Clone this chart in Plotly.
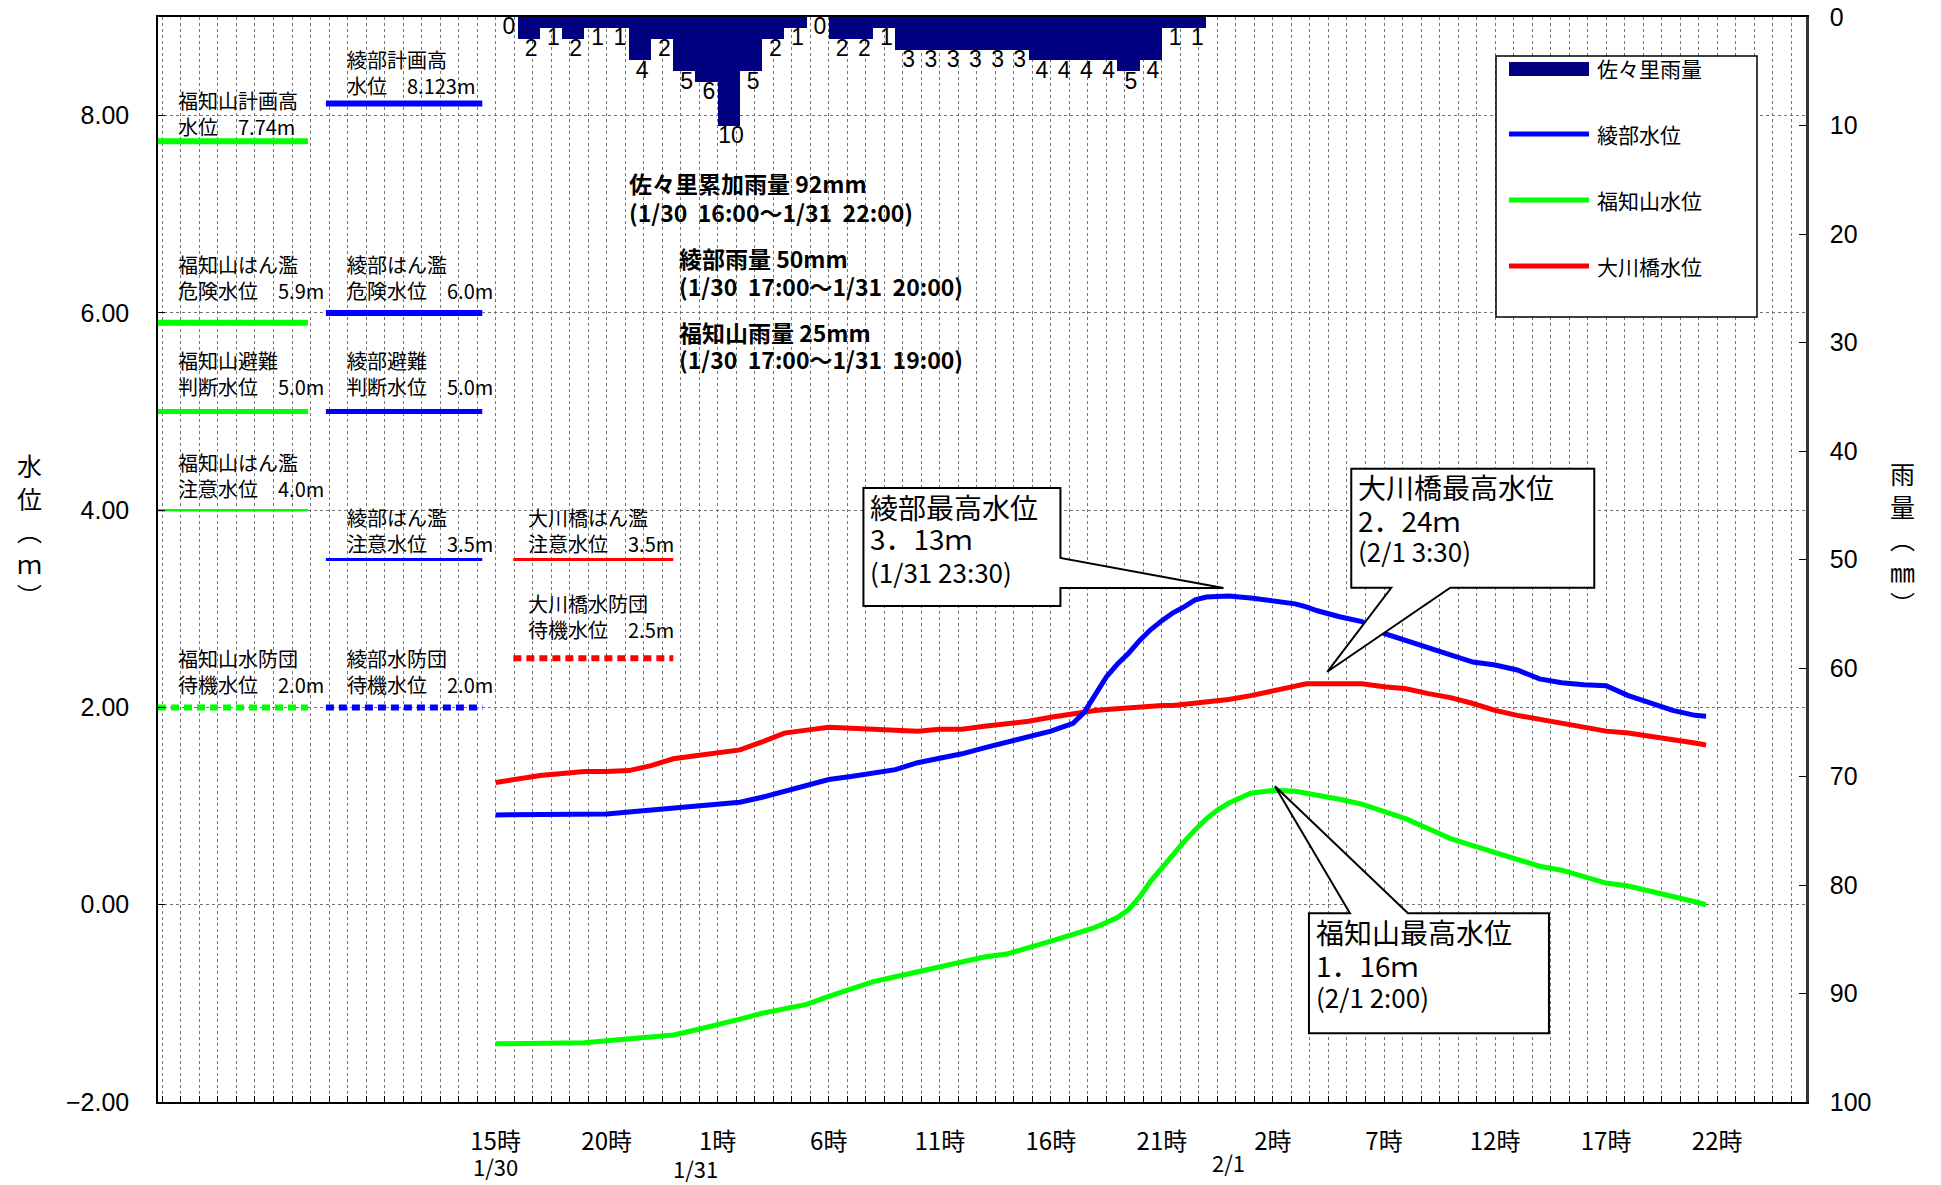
import plotly.graph_objects as go

# ---------------- data ----------------
# hours counted from 1/30 0:00
rain_hours = list(range(15, 47))          # 1/30 15:00 ... 1/31 22:00
rain_sasari = [0, 2, 1, 2, 1, 1, 4, 2, 5, 6, 10, 5, 2, 1, 0, 2, 2, 1,
               3, 3, 3, 3, 3, 3, 4, 4, 4, 4, 5, 4, 1, 1]

level_hours = [15, 16, 17, 18, 19, 20, 21, 22, 23, 24, 25, 26, 27, 28, 29, 30,
               31, 32, 33, 34, 35, 36, 37, 38, 39, 40, 41,
               41.5, 42, 42.5, 43, 43.5, 44, 44.5, 45, 45.5, 46, 46.5, 47, 47.5, 48,
               49, 50, 51, 51.5,
               52, 53, 54, 55, 56, 57, 58, 59, 60, 61, 62, 63, 64, 65, 66, 67, 68, 69,
               69.5]

ayabe_level = [0.91, 0.91, 0.91, 0.91, 0.92, 0.92, 0.94, 0.96, 0.98, 1.01, 1.02, 1.04,
               1.09, 1.15, 1.22, 1.27, 1.30, 1.33, 1.37, 1.44, 1.48, 1.53, 1.59, 1.65,
               1.70, 1.76, 1.84,
               1.95, 2.13, 2.31, 2.44, 2.55, 2.68, 2.79, 2.88, 2.96, 3.02, 3.09, 3.12,
               3.13, 3.13,
               3.11, 3.08, 3.05, 3.02,
               2.98, 2.92, 2.87, 2.75, 2.68, 2.60, 2.53, 2.46, 2.43, 2.38, 2.29, 2.25,
               2.23, 2.22, 2.12, 2.05, 1.97, 1.92,
               1.91]

okawabashi_level = [1.24, 1.28, 1.31, 1.33, 1.35, 1.35, 1.36, 1.41, 1.48, 1.51, 1.54,
                    1.57, 1.65, 1.74, 1.77, 1.80, 1.79, 1.78, 1.77, 1.76, 1.78, 1.78,
                    1.81, 1.83, 1.86, 1.90, 1.94,
                    1.95, 1.97, 1.98, 1.99, 2.00, 2.00, 2.01, 2.02, 2.02, 2.03, 2.04,
                    2.05, 2.07, 2.08,
                    2.12, 2.17, 2.21, 2.24,
                    2.24, 2.24, 2.24, 2.21, 2.19, 2.14, 2.10, 2.04, 1.97, 1.92, 1.88,
                    1.83, 1.79, 1.76, 1.74, 1.71, 1.67, 1.64,
                    1.62]

fukuchiyama_level = [-1.41, -1.41, -1.41, -1.41, -1.40, -1.38, -1.36, -1.34, -1.32,
                     -1.27, -1.22, -1.16, -1.10, -1.05, -1.01, -0.93, -0.85, -0.78,
                     -0.73, -0.68, -0.64, -0.58, -0.53, -0.50, -0.44, -0.37, -0.30,
                     -0.27, -0.23, -0.18, -0.13, -0.05, 0.08, 0.24, 0.38, 0.52, 0.64,
                     0.76, 0.87, 0.96, 1.03,
                     1.13, 1.16, 1.15, 1.13,
                     1.12, 1.07, 1.02, 0.95, 0.87, 0.77, 0.67, 0.60, 0.53, 0.46, 0.39,
                     0.35, 0.28, 0.22, 0.19, 0.14, 0.08, 0.03,
                     0.00]

x_tick_hours = [15, 20, 25, 30, 35, 40, 45, 50, 55, 60, 65, 70]
x_tick_labels = ["15時", "20時", "1時", "6時", "11時", "16時", "21時",
                 "2時", "7時", "12時", "17時", "22時"]
date_hours = [15, 24, 48]
date_labels = ["1/30", "1/31", "2/1"]

y_left_ticks = [-2, 0, 2, 4, 6, 8]

fuku_thresholds = [7.74, 5.9, 5.0, 4.0, 2.0]
fuku_threshold_labels = ["福知山計画高<br>水位　7.74m", "福知山はん濫<br>危険水位　5.9m",
                         "福知山避難<br>判断水位　5.0m", "福知山はん濫<br>注意水位　4.0m",
                         "福知山水防団<br>待機水位　2.0m"]
ayabe_thresholds = [8.123, 6.0, 5.0, 3.5, 2.0]
ayabe_threshold_labels = ["綾部計画高<br>水位　8.123m", "綾部はん濫<br>危険水位　6.0m",
                          "綾部避難<br>判断水位　5.0m", "綾部はん濫<br>注意水位　3.5m",
                          "綾部水防団<br>待機水位　2.0m"]
okawa_thresholds = [3.5, 2.5]
okawa_threshold_labels = ["大川橋はん濫<br>注意水位　3.5m", "大川橋水防団<br>待機水位　2.5m"]

legend_names = ["佐々里雨量", "綾部水位", "福知山水位", "大川橋水位"]

rain_summary = [
    ["佐々里累加雨量 92mm", "(1/30  16:00～1/31  22:00)"],
    ["綾部雨量 50mm", "(1/30  17:00～1/31  20:00)"],
    ["福知山雨量 25mm", "(1/30  17:00～1/31  19:00)"],
]

# ---------------- styles ----------------
NAVY, BLUE, GREEN, RED = "#000080", "#0000FF", "#00FF00", "#FF0000"
GRID = "#737373"
JP = "Noto Sans CJK JP"
NUM = "Liberation Sans, Arial, sans-serif"
NARROW = "Liberation Sans Narrow, Arial Narrow, Liberation Sans, sans-serif"

PL, PR, PT, PB = 158, 1806, 17, 1102          # plot area in pixels
PW, PH = PR - PL, PB - PT


def px_x(px):
    return (px - PL) / PW


def px_y(py):
    return (PB - py) / PH


thr_styles = {
    "fuku": [(6, "solid"), (6, "solid"), (5, "solid"), (2.5, "solid"), (6, "8px,5px")],
    "ayabe": [(6, "solid"), (6, "solid"), (5, "solid"), (3, "solid"), (6, "8px,5px")],
    "okawa": [(3, "solid"), (6, "8px,5px")],
}
thr_spans = {"fuku": (-0.2, 6.55), "ayabe": (7.36, 14.4), "okawa": (15.8, 23.0)}
thr_label_x = {"fuku": 0.62, "ayabe": 8.22, "okawa": 16.37}
thr_label_shift = {"fuku": [28, 45, 38, 35, 36], "ayabe": [31, 35, 38, 29, 36],
                   "okawa": [29, 42]}

fig = go.Figure()

# rainfall bars (right axis, reversed)
fig.add_trace(go.Bar(
    x=rain_hours, y=rain_sasari, width=1, offset=0, yaxis="y2",
    marker=dict(color=NAVY, line=dict(width=0)),
    name=legend_names[0], showlegend=False, hoverinfo="skip"))
# rainfall value labels under each bar
fig.add_trace(go.Scatter(
    x=[h + 0.6 for h in rain_hours], y=rain_sasari, yaxis="y2", mode="text",
    text=[str(v) for v in rain_sasari], textposition="bottom center",
    textfont=dict(family=NARROW, size=23, color="black"),
    cliponaxis=False, showlegend=False, hoverinfo="skip"))

# threshold lines
for key, levels, color in [("fuku", fuku_thresholds, GREEN),
                           ("ayabe", ayabe_thresholds, BLUE),
                           ("okawa", okawa_thresholds, RED)]:
    x0, x1 = thr_spans[key]
    for lv, (w, d) in zip(levels, thr_styles[key]):
        fig.add_trace(go.Scatter(x=[x0, x1], y=[lv, lv], mode="lines",
                                 line=dict(color=color, width=w, dash=d),
                                 showlegend=False, hoverinfo="skip"))

# water levels
for series, color, name in [(okawabashi_level, RED, legend_names[3]),
                            (ayabe_level, BLUE, legend_names[1]),
                            (fukuchiyama_level, GREEN, legend_names[2])]:
    fig.add_trace(go.Scatter(x=level_hours, y=series, mode="lines",
                             line=dict(color=color, width=5),
                             name=name, showlegend=False))

annotations = []
shapes = []

# threshold labels
for key, labels, levels in [("fuku", fuku_threshold_labels, fuku_thresholds),
                            ("ayabe", ayabe_threshold_labels, ayabe_thresholds),
                            ("okawa", okawa_threshold_labels, okawa_thresholds)]:
    for lab, lv, sh in zip(labels, levels, thr_label_shift[key]):
        annotations.append(dict(x=thr_label_x[key], y=lv, xref="x", yref="y",
                                text=lab, showarrow=False, xanchor="left",
                                yanchor="middle", align="left", yshift=sh,
                                font=dict(family=JP, size=20, color="black")))

# date labels under the time axis
date_y_px = [1166, 1168, 1162]
for h, lab, ypx in zip(date_hours, date_labels, date_y_px):
    annotations.append(dict(x=h, y=px_y(ypx), xref="x", yref="paper", text=lab,
                            showarrow=False, xanchor="center", yanchor="middle",
                            font=dict(family=JP, size=22, color="black")))

# axis titles (vertical writing)
annotations.append(dict(x=px_x(29), y=px_y(530), xref="paper", yref="paper",
                        text="水<br>位<br>︵<br>ｍ<br>︶", showarrow=False,
                        xanchor="center", yanchor="middle",
                        font=dict(family=JP, size=25, color="black")))
annotations.append(dict(x=px_x(1902), y=px_y(538), xref="paper", yref="paper",
                        text="雨<br>量<br>︵<br>㎜<br>︶", showarrow=False,
                        xanchor="center", yanchor="middle",
                        font=dict(family=JP, size=25, color="black")))

# rain summary blocks with white backgrounds
shapes.append(dict(type="rect", xref="paper", yref="paper", x0=px_x(621), x1=px_x(1052),
                   y0=px_y(238), y1=px_y(167), fillcolor="white", line=dict(width=0),
                   layer="between"))
shapes.append(dict(type="rect", xref="paper", yref="paper", x0=px_x(671), x1=px_x(1130),
                   y0=px_y(392), y1=px_y(243), fillcolor="white", line=dict(width=0),
                   layer="between"))
summary_pos = [(627, 183, 212), (677, 258, 286), (677, 332, 359)]
for (l1, l2), (xp, y1p, y2p) in zip(rain_summary, summary_pos):
    for txt, yp in [(l1, y1p), (l2, y2p)]:
        annotations.append(dict(x=px_x(xp), y=px_y(yp), xref="paper", yref="paper",
                                text="<b>" + txt + "</b>",
                                showarrow=False, xanchor="left", yanchor="middle",
                                align="left",
                                font=dict(family=JP, size=23, color="black")))


# callouts anchored on the peaks
def peak(series):
    i = series.index(max(series))
    return level_hours[i], series[i]


def fmt_m(v):
    s = "%.2f" % v
    return s.replace(".", "．") + "ｍ"


def fmt_t(h):
    day = 30 + int(h // 24)
    hh = int(h % 24)
    mm = int(round((h - int(h)) * 60))
    d = "1/%d" % day if day <= 31 else "2/%d" % (day - 31)
    return "(%s %d:%02d)" % (d, hh, mm)


callouts = [
    ("綾部最高水位", ayabe_level,
     "M -354,108 L -157,108 L -157,38 L 6,8 L -157,8 L -157,-10 L -354,-10 Z",
     -349, [89, 58, 25]),
    ("大川橋最高水位", okawabashi_level,
     "M 45,215 L 288,215 L 288,96 L 144,96 L 21,12 L 85,96 L 45,96 Z",
     50, [197, 164, 133]),
    ("福知山最高水位", fukuchiyama_level,
     "M 36,-123 L 77,-123 L 2,4 L 135,-123 L 276,-123 L 276,-243 L 36,-243 Z",
     41, [-142, -175, -206]),
]
for title, series, path, dx, dys in callouts:
    px_, py_ = peak(series)
    shapes.append(dict(type="path", xref="x", yref="y", xsizemode="pixel",
                       ysizemode="pixel", xanchor=px_, yanchor=py_, path=path,
                       fillcolor="white", line=dict(color="black", width=2),
                       layer="above"))
    lines = [(title, 28), (fmt_m(py_), 28), (fmt_t(px_), 26)]
    for (txt, fs), dy in zip(lines, dys):
        annotations.append(dict(x=px_, y=py_, xref="x", yref="y", text=txt,
                                showarrow=False, xanchor="left", yanchor="middle",
                                xshift=dx, yshift=dy,
                                font=dict(family=JP, size=fs, color="black")))

# manual legend
shapes.append(dict(type="rect", xref="paper", yref="paper", x0=px_x(1496), x1=px_x(1757),
                   y0=px_y(317), y1=px_y(56), fillcolor="white",
                   line=dict(color="black", width=1.5), layer="above"))
legend_y = [68, 134, 200, 266]
shapes.append(dict(type="rect", xref="paper", yref="paper", x0=px_x(1509), x1=px_x(1589),
                   y0=px_y(76), y1=px_y(62), fillcolor=NAVY, line=dict(width=0),
                   layer="above"))
for col, yy in zip([BLUE, GREEN, RED], legend_y[1:]):
    shapes.append(dict(type="line", xref="paper", yref="paper", x0=px_x(1509),
                       x1=px_x(1589), y0=px_y(yy), y1=px_y(yy),
                       line=dict(color=col, width=5), layer="above"))
for name, yy in zip(legend_names, legend_y):
    annotations.append(dict(x=px_x(1595), y=px_y(yy), xref="paper", yref="paper",
                            text=name, showarrow=False, xanchor="left",
                            yanchor="middle", font=dict(family=JP, size=21, color="black")))

fig.update_layout(
    width=1941, height=1185, autosize=False,
    margin=dict(l=PL, r=1941 - PR, t=PT, b=1185 - PB, autoexpand=False),
    plot_bgcolor="white", paper_bgcolor="white", showlegend=False,
    bargap=0, barmode="overlay",
    xaxis=dict(range=[-0.2, 74.0], tickmode="array", tickvals=x_tick_hours,
               ticktext=x_tick_labels, showgrid=True, gridcolor=GRID, griddash="dot",
               gridwidth=1, ticks="", showline=True, linecolor="black", linewidth=1.5,
               mirror=True, zeroline=False, ticklabelstandoff=17,
               tickfont=dict(family=JP, size=24, color="black"),
               minor=dict(tickmode="linear", tick0=0, dtick=5 / 6, showgrid=True,
                          gridcolor=GRID, griddash="dot", gridwidth=1, ticks="inside",
                          ticklen=6, tickcolor="black")),
    yaxis=dict(range=[-2, 9], tickmode="array", tickvals=y_left_ticks, tickformat=".2f",
               showgrid=True, gridcolor=GRID, griddash="dot", gridwidth=1,
               zeroline=False, ticks="inside", ticklen=7, tickcolor="black",
               showline=True, linecolor="black", linewidth=1.5, ticklabelstandoff=22,
               tickfont=dict(family=NUM, size=25, color="black")),
    yaxis2=dict(overlaying="y", side="right", range=[100, 0], tickmode="linear",
                tick0=0, dtick=10, showgrid=False, zeroline=False, ticks="inside",
                ticklen=7, tickcolor="black", showline=True, linecolor="#333333",
                linewidth=2.5, ticklabelstandoff=16,
                tickfont=dict(family=NUM, size=25, color="black")),
    annotations=annotations, shapes=shapes,
)

fig.write_html("out.html", config={"displayModeBar": False},
               post_script="document.body.style.margin='0px';"
                           "document.body.style.overflow='hidden';")
